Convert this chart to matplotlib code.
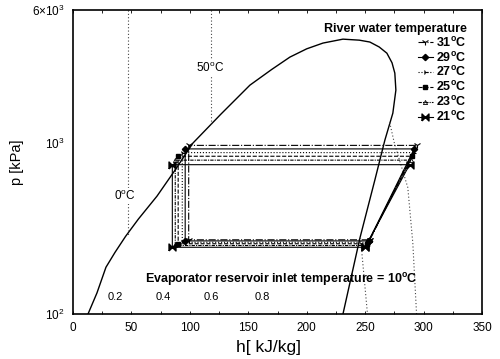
import matplotlib
matplotlib.use('Agg')
import matplotlib.pyplot as plt
from matplotlib.ticker import FixedLocator, MultipleLocator, NullLocator, NullFormatter

plt.rcParams['font.family'] = ['Liberation Sans', 'DejaVu Sans']
plt.rcParams['mathtext.fontset'] = 'custom'
plt.rcParams['mathtext.rm'] = 'Liberation Sans'
plt.rcParams['mathtext.it'] = 'Liberation Sans:italic'
plt.rcParams['mathtext.bf'] = 'Liberation Sans:bold'

# Saturation dome
dome_h = [12.8, 20.5, 28.2, 36.0, 45.0, 56.0, 71.9, 87.0, 102.6, 126.6, 151.4, 170.0, 185.6, 200.0, 213.9, 231.0,
          245.0, 254.0, 262.0, 268.6, 273.0, 275.4, 276.3, 273.7, 266.9, 258.3, 245.5, 231.0]
dome_p = [100, 133, 188, 230, 285, 360, 490, 690, 1000, 1478, 2183, 2695, 3184, 3560, 3846, 4055,
          4000, 3901, 3650, 3357, 2950, 2566, 2042, 1497, 1042, 608, 278, 100]

# Isotherms (dotted)
iso0_liq_h = [47, 47]
iso0_liq_p = [6000, 290]
iso0_vap_h = [246, 252]
iso0_vap_p = [280, 100]
iso50_liq_h = [118, 118]
iso50_liq_p = [6000, 1300]
iso50_vap_h = [271, 275, 286.5, 290.8, 294]
iso50_vap_p = [1320, 1000, 550, 260, 100]

# Cycles
river = ['31', '29', '27', '25', '23', '21']
p_cond = [970, 925, 880, 838, 795, 748]
p_evap = [272, 268, 263, 258, 252, 246]
h_evap_out = [254, 253, 253, 252, 251, 250]
h_comp_out = [294, 292, 291, 290, 289, 288]
h_cond_out = [99, 96, 93.5, 90, 87.5, 85]

quality_labels = ['0.2', '0.4', '0.6', '0.8']
quality_h = [36, 77, 118, 162]

bowtie = [(-1, -1), (1, 1), (1, -1), (-1, 1), (-1, -1)]
styles = [
    dict(ls='-.', marker='1', ms=5, mew=0.8),
    dict(ls='-', marker='D', ms=3.2),
    dict(ls=':', marker='4', ms=4, mew=0.8),
    dict(ls='--', marker='s', ms=3.5),
    dict(ls=(0, (3, 1, 1, 1)), marker='^', ms=3, fillstyle='none', mew=0.6),
    dict(ls='-', marker=bowtie, ms=5),
]

fig = plt.figure(figsize=(5.0, 3.59), dpi=100)
ax = fig.add_axes([0.146, 0.125, 0.818, 0.847])
ax.set_yscale('log')
ax.set_xlim(0, 350)
ax.set_ylim(100, 6000)

ax.plot(dome_h, dome_p, color='black', lw=1.0)
for hh, pp in [(iso0_liq_h, iso0_liq_p), (iso0_vap_h, iso0_vap_p),
               (iso50_liq_h, iso50_liq_p), (iso50_vap_h, iso50_vap_p)]:
    ax.plot(hh, pp, color='#444444', lw=0.8, ls=(0, (1, 2)))

handles = []
for i, r in enumerate(river):
    hs = [h_evap_out[i], h_comp_out[i], h_cond_out[i], h_cond_out[i], h_evap_out[i]]
    ps = [p_evap[i], p_cond[i], p_cond[i], p_evap[i], p_evap[i]]
    ln, = ax.plot(hs, ps, color='black', lw=0.8, mfc='black', mec='black',
                  label=r + r'$\mathregular{^o}$C', **styles[i])
    handles.append(ln)

leg = ax.legend(handles=handles, loc='upper right', bbox_to_anchor=(0.975, 0.975),
                frameon=False, title='River water temperature', alignment='right',
                prop=dict(weight='bold', size=9), handlelength=1.2, handletextpad=0.3,
                labelspacing=0.07, borderaxespad=0.2, borderpad=0.2)
leg.get_title().set_fontweight('bold')
leg.get_title().set_fontsize(9)

txt_bg = dict(facecolor='white', edgecolor='none', pad=0.5)
ax.text(117, 2750, r'50$\mathregular{^o}$C', fontsize=8.5, ha='center', va='center', bbox=txt_bg)
ax.text(44.5, 490, r'0$\mathregular{^o}$C', fontsize=8.5, ha='center', va='center', bbox=txt_bg)
ax.text(178, 160, r'Evaporator reservoir inlet temperature = 10$\mathregular{^o}$C',
        fontsize=9, fontweight='bold', ha='center', va='center')
for lab, hq in zip(quality_labels, quality_h):
    ax.text(hq, 126, lab, fontsize=8, ha='center', va='center')

ax.xaxis.set_major_locator(MultipleLocator(50))
ax.xaxis.set_minor_locator(MultipleLocator(25))
ax.yaxis.set_major_locator(FixedLocator([100, 1000, 6000]))
ax.yaxis.set_minor_locator(NullLocator())
ax.yaxis.set_minor_formatter(NullFormatter())
ax.set_yticklabels([r'$\mathregular{10^2}$', r'$\mathregular{10^3}$', r'$\mathregular{6{\times}10^3}$'])
ax.tick_params(axis='x', which='both', direction='in', top=True, labelsize=8.5, pad=6, length=2, width=0.6)
ax.tick_params(axis='y', which='both', direction='in', labelsize=8.5, pad=6, length=0)
for s in ax.spines.values():
    s.set_linewidth(1.2)

ax.set_xlabel('h[ kJ/kg]', fontsize=12.5)
ax.set_ylabel('p [kPa]', fontsize=10.5)
ax.xaxis.set_label_coords(0.477, -0.085)
ax.yaxis.set_label_coords(-0.12, 0.5)

fig.savefig('out.png', dpi=100)
